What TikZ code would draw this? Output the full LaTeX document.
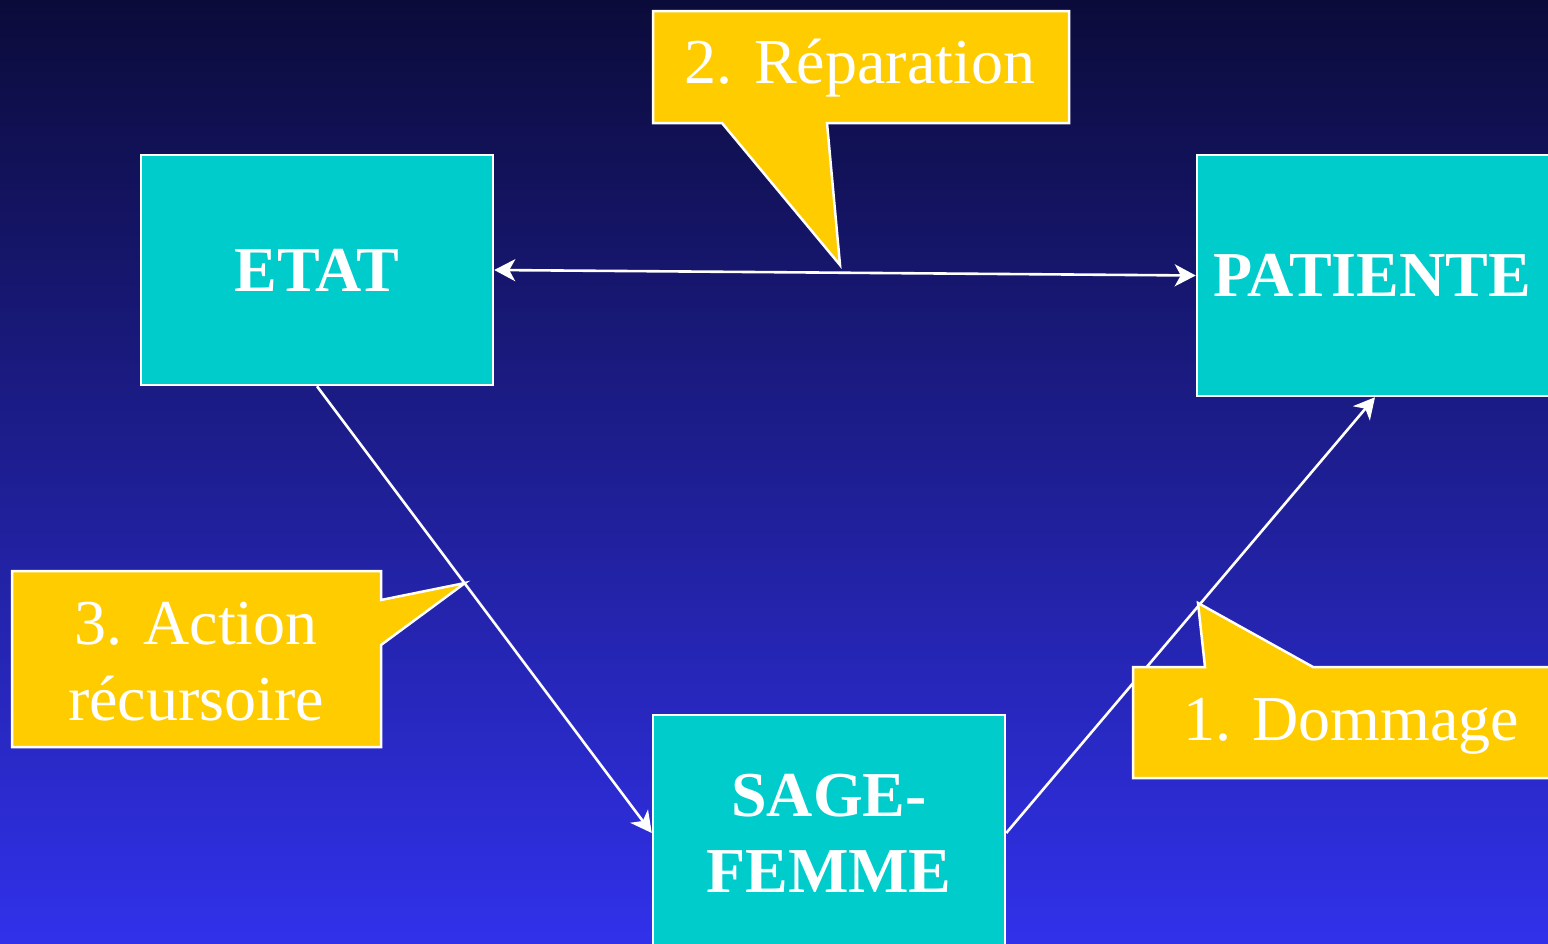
\documentclass[tikz,border=0pt]{standalone}
\usepackage{fontspec}
\setmainfont{Liberation Serif}
\usetikzlibrary{arrows.meta}
\definecolor{bgtop}{RGB}{11,11,58}
\definecolor{bgbot}{RGB}{49,49,235}
\definecolor{boxcyan}{RGB}{0,204,204}
\definecolor{callyellow}{RGB}{255,204,0}
\begin{document}
\begin{tikzpicture}[x=1pt,y=-1pt,
  >={Stealth[length=21pt,width=22pt,inset=6pt]},
  box/.style={draw=white, line width=2.5pt, fill=boxcyan, text=white,
    font=\fontsize{64}{76}\selectfont\bfseries, align=center, inner sep=0pt},
  conn/.style={draw=white, line width=2.6pt},
  callout/.style={draw=white, line width=2.5pt, fill=callyellow, line join=miter},
  calltext/.style={text=white, font=\fontsize{64}{76}\selectfont, align=center, inner sep=0pt}]
\useasboundingbox (0,0) rectangle (1548,943);
\clip (0,0) rectangle (1548,943);
\shade[top color=bgtop, bottom color=bgbot] (0,0) rectangle (1548,943);

% boxes
\node[box, minimum width=352pt, minimum height=230pt] (etat) at (317,270) {\raisebox{-2pt}{ETAT}};
\node[box, minimum width=356pt, minimum height=241pt] (pat) at (1375,275.5) {\hspace*{-6pt}PATIENTE};
\node[box, minimum width=352pt, minimum height=236pt] (sage) at (829,833) {SAGE-\\FEMME};

% connectors
\draw[conn, <->] (etat.east) -- (pat.west);
\draw[conn, ->] (etat.south) -- (sage.west);
\draw[conn, ->] (sage.east) -- (pat.south);

% callouts
\path[callout] (653,11) -- (1069,11) -- (1069,123) -- (827,123) -- (840,265)
  -- (722,123) -- (653,123) -- cycle;
\node[calltext, anchor=base] (rep) at (860,83) {2. Réparation};

\path[callout] (12,571) -- (381,571) -- (381,600) -- (465,583) -- (381,645)
  -- (381,747) -- (12,747) -- cycle;
\node[calltext] (act) at (196,662) {3. Action\\récursoire};

\path[callout] (1133,667) -- (1205,667) -- (1198,603) -- (1313,667) -- (1570,667)
  -- (1570,778) -- (1133,778) -- cycle;
\node[calltext, anchor=base] (dom) at (1351,740) {1. Dommage};
\end{tikzpicture}
\end{document}
